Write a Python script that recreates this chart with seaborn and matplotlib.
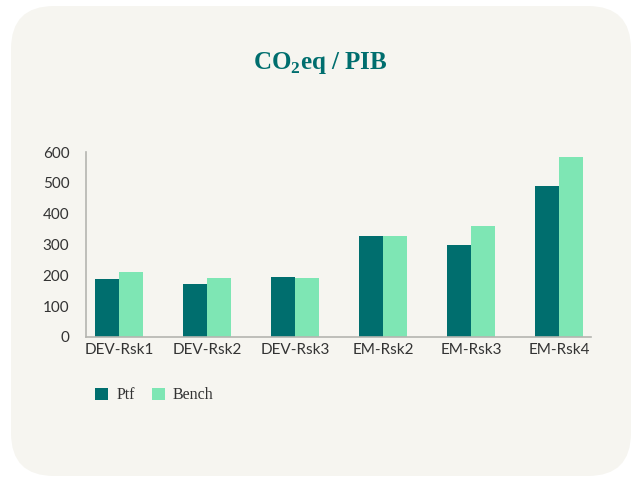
import pandas as pd
import matplotlib.pyplot as plt
import seaborn as sns
from matplotlib.patches import FancyBboxPatch, Patch

# Data
categories = ["DEV-Rsk1", "DEV-Rsk2", "DEV-Rsk3", "EM-Rsk2", "EM-Rsk3", "EM-Rsk4"]
ptf = [187, 171, 194, 329, 300, 490]
bench = [210, 190, 190, 329, 361, 584]
series = ["Ptf", "Bench"]
colors = ["#006e6e", "#7ee6b4"]
yticks = [0, 100, 200, 300, 400, 500, 600]

df = pd.DataFrame({
    "Category": categories * 2,
    "Value": ptf + bench,
    "Series": [series[0]] * len(categories) + [series[1]] * len(categories),
})

sns.set_style("white")
plt.rcParams["font.family"] = ["Lato", "DejaVu Sans"]
plt.rcParams["mathtext.fontset"] = "custom"
plt.rcParams["mathtext.rm"] = "Liberation Serif"
plt.rcParams["mathtext.bf"] = "Liberation Serif:bold"

fig = plt.figure(figsize=(6.33, 4.78), dpi=100)
fig.patch.set_facecolor("white")

# Rounded card background
card = FancyBboxPatch((11 / 633, 2 / 478), 620 / 633, 470 / 478,
                      boxstyle="round,pad=0,rounding_size=0.068",
                      transform=fig.transFigure, facecolor="#f6f5f0",
                      edgecolor="none", mutation_aspect=633 / 478, zorder=-10)
fig.patches.append(card)

ax = fig.add_axes([86 / 633, 1 - 337 / 478, 505 / 633, 185 / 478])
ax.set_facecolor("none")
ax.set_zorder(1)

sns.barplot(data=df, x="Category", y="Value", hue="Series", palette=colors,
            width=0.545, saturation=1, linewidth=0, ax=ax, legend=False)

ax.set_ylim(0, 600)
ax.set_yticks(yticks)
ax.set_xlim(-0.375, 5.36)
ax.set_xlabel("")
ax.set_ylabel("")
for side in ["top", "right"]:
    ax.spines[side].set_visible(False)
for side in ["left", "bottom"]:
    ax.spines[side].set_color("#b5b5b0")
    ax.spines[side].set_linewidth(1.2)
ax.tick_params(axis="both", length=0, labelsize=11, colors="#333333")
ax.tick_params(axis="y", pad=12)
ax.tick_params(axis="x", pad=4)

fig.text(0.506, 0.868, r"CO$_\mathbf{2}$eq / PIB", ha="center", va="center",
         fontsize=18, fontweight="bold", color="#006e6e",
         family=["Liberation Serif", "DejaVu Serif"])

handles = [Patch(facecolor=c, edgecolor="none") for c in colors]
leg = fig.legend(handles, series, loc="center left", bbox_to_anchor=(0.128, 0.173),
                 ncol=2, frameon=False, handlelength=0.8, handleheight=0.8,
                 columnspacing=1.1, handletextpad=0.5,
                 prop={"family": ["Liberation Serif", "DejaVu Serif"], "size": 11.5})
for t in leg.get_texts():
    t.set_color("#333333")

fig.savefig("out.png", dpi=100, facecolor="white")
